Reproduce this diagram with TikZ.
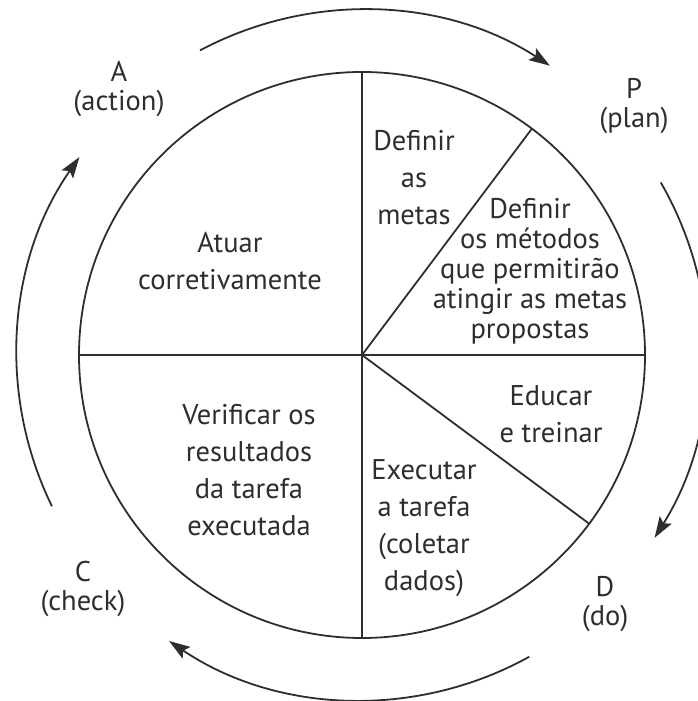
\documentclass[tikz,border=0pt]{standalone}
\usepackage{fontspec}
\setmainfont{PT Sans}
\usetikzlibrary{arrows.meta,calc}
\definecolor{ink}{HTML}{2E2E2E}
\tikzset{
  wheel/.style={draw=ink, line width=1.8pt},
  cyc/.style={draw=ink, line width=1.8pt, -{Stealth[length=21pt,width=14pt,inset=4pt]}},
  body/.style={text=ink, align=center, font=\fontsize{28.5}{37}\selectfont, inner sep=0pt},
  plantxt/.style={text=ink, align=center, font=\fontsize{28.5}{30}\selectfont, inner sep=0pt},
  lab/.style={text=ink, align=center, font=\fontsize{28.5}{29}\selectfont, inner sep=0pt}
}
\begin{document}
\begin{tikzpicture}[x=1pt,y=1pt]
\useasboundingbox (0,0) rectangle (697,701);
\coordinate (c) at (362,346);
% wheel
\draw[wheel] (c) circle[radius=283pt];
\coordinate (top) at ($(c)+(90:283pt)$);
\coordinate (bot) at ($(c)+(270:283pt)$);
\coordinate (lft) at ($(c)+(180:283pt)$);
\coordinate (rgt) at ($(c)+(0:283pt)$);
\coordinate (d1) at ($(c)+(53.1:283pt)$);
\coordinate (d2) at ($(c)+(-36.6:283pt)$);
\draw[wheel] (top) -- (bot);
\draw[wheel] (lft) -- (rgt);
\draw[wheel] (c) -- (d1);
\draw[wheel] (c) -- (d2);
% cycle arrows
\coordinate (a1) at ($(c)+(118:345pt)$);
\coordinate (a2) at ($(c)+(30:345pt)$);
\coordinate (a3) at ($(c)+(-61:345pt)$);
\coordinate (a4) at ($(c)+(206:345pt)$);
\draw[cyc] (a1) arc[start angle=118, end angle=57, radius=345pt];
\draw[cyc] (a2) arc[start angle=30, end angle=-32, radius=345pt];
\draw[cyc] (a3) arc[start angle=-61, end angle=-124, radius=345pt];
\draw[cyc] (a4) arc[start angle=206, end angle=145, radius=345pt];
% sector texts
\node[body] (atuar) at (230,440) {Atuar\\corretivamente};
\node[body] (metas) at (414,523) {Definir\\as\\metas};
\node[plantxt] (metodos) at (530,430) {Definir\\os métodos\\que permitirão\\atingir as metas\\propostas};
\node[body] (educar) at (551,287) {Educar\\e treinar};
\node[body] (executar) at (424,173) {Executar\\a tarefa\\(coletar\\dados)};
\node[body] (verificar) at (249,231) {Verificar os\\resultados\\da tarefa\\executada};
% PDCA labels
\node[lab] (labA) at (119,612) {A\\(action)};
\node[lab] (labP) at (634,595) {P\\(plan)};
\node[lab] (labC) at (83,112) {C\\(check)};
\node[lab] (labD) at (605,97) {D\\(do)};
\end{tikzpicture}
\end{document}
